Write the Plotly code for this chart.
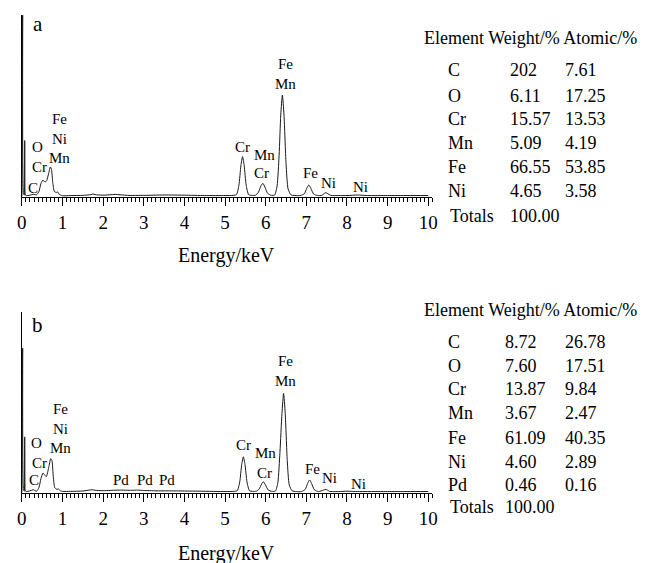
import plotly.graph_objects as go

# The page body has an 8 px default margin: the figure is drawn 8 px smaller
# and every pixel position below is measured in the window (reference) frame.
OFF = 8
W, H = 648 - OFF, 563 - OFF
FONT = "Liberation Serif"

# ---------------- data ----------------
energy_a = [0.00, 0.02, 0.04, 0.06, 0.07, 0.08, 0.10, 0.20, 0.28, 0.36, 0.42, 0.47, 0.52, 0.57,
            0.61, 0.66, 0.70, 0.73, 0.76, 0.80, 0.85, 0.88, 0.92, 1.00, 1.20, 1.50, 1.70, 1.75,
            1.80, 2.00, 2.30, 2.60, 3.00, 3.50, 4.00, 4.50, 5.00, 5.20, 5.28, 5.34, 5.39, 5.43,
            5.47, 5.52, 5.58, 5.66, 5.75, 5.82, 5.88, 5.93, 5.98, 6.05, 6.14, 6.22, 6.28, 6.33,
            6.37, 6.41, 6.45, 6.50, 6.55, 6.62, 6.72, 6.85, 6.95, 7.01, 7.06, 7.11, 7.18, 7.28,
            7.38, 7.44, 7.48, 7.53, 7.60, 7.80, 8.00, 8.26, 8.50, 9.00, 9.50, 10.00]
counts_a = [0.5, 100.0, 2.0, 1.0, 31.0, 2.0, 0.8, 1.0, 1.5, 1.2, 3.0, 7.5, 9.3, 8.2,
            9.0, 13.0, 16.5, 15.0, 8.0, 3.0, 2.5, 2.8, 1.5, 0.7, 0.8, 0.9, 1.3, 1.7,
            1.3, 1.0, 1.4, 0.9, 0.9, 1.1, 1.0, 0.8, 0.8, 0.9, 1.3, 6.4, 17.3, 22.2,
            17.3, 6.4, 1.3, 0.9, 1.0, 2.6, 6.0, 7.5, 5.5, 1.9, 0.9, 1.1, 6.1, 23.0,
            45.0, 56.0, 45.0, 18.5, 4.5, 1.2, 0.8, 0.8, 1.8, 4.8, 6.6, 4.8, 1.6, 0.8,
            0.9, 1.9, 2.4, 1.8, 0.9, 0.8, 0.8, 1.1, 0.8, 0.8, 0.8, 0.8]

energy_b = [0.00, 0.02, 0.04, 0.06, 0.07, 0.08, 0.10, 0.20, 0.28, 0.36, 0.42, 0.47, 0.52, 0.56,
            0.60, 0.66, 0.71, 0.74, 0.77, 0.81, 0.86, 0.90, 0.95, 1.00, 1.20, 1.50, 1.74, 1.80,
            2.00, 2.40, 2.70, 2.85, 3.00, 3.30, 3.60, 4.00, 4.40, 5.00, 5.22, 5.30, 5.36, 5.41,
            5.45, 5.49, 5.54, 5.60, 5.68, 5.77, 5.84, 5.90, 5.94, 5.99, 6.06, 6.15, 6.24, 6.30,
            6.35, 6.40, 6.44, 6.48, 6.53, 6.58, 6.65, 6.75, 6.88, 6.97, 7.03, 7.08, 7.13, 7.20,
            7.30, 7.42, 7.48, 7.52, 7.57, 7.64, 7.80, 8.00, 8.26, 8.50, 9.00, 9.50, 10.00]
counts_b = [0.5, 80.0, 2.0, 1.0, 31.0, 2.0, 0.8, 1.2, 1.8, 1.0, 3.0, 8.0, 11.0, 10.0,
            9.0, 14.0, 19.0, 18.0, 10.0, 3.0, 2.0, 2.2, 1.2, 0.9, 0.9, 1.1, 1.8, 1.5,
            1.3, 1.6, 1.5, 1.6, 1.4, 1.2, 1.2, 1.1, 1.0, 0.8, 0.9, 1.3, 6.0, 15.8,
            20.0, 15.8, 6.0, 1.3, 0.9, 1.0, 2.3, 5.0, 6.2, 4.6, 1.7, 0.9, 1.1, 6.0,
            22.5, 44.0, 55.0, 44.0, 18.0, 4.4, 1.2, 0.8, 0.8, 2.0, 5.2, 7.2, 5.2, 1.7,
            0.8, 1.6, 2.0, 1.6, 0.9, 0.8, 0.8, 1.0, 0.8, 0.8, 0.8, 0.8, 0.8]

tick_vals = [0, 1, 2, 3, 4, 5, 6, 7, 8, 9, 10]
tick_text = ["0", "1", "2", "3", "4", "5", "6", "7", "8", "9", "10"]
axis_title = "Energy/keV"

table_header = "Element Weight/% Atomic/%"
elements_a = ["C", "O", "Cr", "Mn", "Fe", "Ni"]
weight_a = ["202", "6.11", "15.57", "5.09", "66.55", "4.65"]
atomic_a = ["7.61", "17.25", "13.53", "4.19", "53.85", "3.58"]
elements_b = ["C", "O", "Cr", "Mn", "Fe", "Ni", "Pd"]
weight_b = ["8.72", "7.60", "13.87", "3.67", "61.09", "4.60", "0.46"]
atomic_b = ["26.78", "17.51", "9.84", "2.47", "40.35", "2.89", "0.16"]
totals_label = "Totals"
totals_value = "100.00"

# peak labels: (text, pixel x, pixel y)
labels_a = [("Fe<br>Ni<br>Mn", 55, 138), ("O", 33, 147), ("Cr", 35, 167), ("C", 28, 188),
            ("Fe<br>Mn", 285, 74), ("Cr", 241, 147), ("Mn", 263, 155), ("Cr", 260, 173),
            ("Fe", 310, 173), ("Ni", 328, 183), ("Ni", 361, 187)]
labels_b = [("Fe<br>Ni<br>Mn", 56, 428), ("O", 32, 443), ("Cr", 35, 463), ("C", 29, 480),
            ("Pd", 118, 480), ("Pd", 142, 480), ("Pd", 164, 480),
            ("Fe<br>Mn", 285, 371), ("Cr", 242, 445), ("Mn", 264, 453), ("Cr", 263, 473),
            ("Fe", 312, 469), ("Ni", 330, 478), ("Ni", 359, 484)]

# ---------------- layout helpers ----------------
def px(x):
    return (x - OFF) / W

def py(y):
    return 1 - (y - OFF) / H

fig = go.Figure()
line = dict(color="#1a1a1a", width=1, shape="spline", smoothing=0.6)
fig.add_trace(go.Scatter(x=energy_a, y=counts_a, mode="lines", line=line,
                         xaxis="x", yaxis="y", showlegend=False, hoverinfo="skip"))
fig.add_trace(go.Scatter(x=energy_b, y=counts_b, mode="lines", line=line,
                         xaxis="x2", yaxis="y2", showlegend=False, hoverinfo="skip"))

xdom = [px(17), px(434)]
xax = dict(domain=xdom, range=[0, 10.1], showgrid=False, zeroline=False,
           showline=True, linecolor="black", linewidth=1,
           ticks="outside", ticklen=8, tickwidth=1, tickcolor="black",
           tickvals=tick_vals, ticktext=tick_text,
           tickfont=dict(family=FONT, size=19, color="black"),
           minor=dict(ticks="outside", ticklen=4, dtick=0.1, tickcolor="black", tickwidth=1))
yax = dict(range=[0, 100], showgrid=False, zeroline=False, showline=True,
           linecolor="black", linewidth=1, showticklabels=False, ticks="")

fig.update_layout(
    width=W, height=H, margin=dict(l=0, r=0, t=0, b=0),
    paper_bgcolor="white", plot_bgcolor="white",
    xaxis=dict(**xax, anchor="y"),
    yaxis=dict(**yax, domain=[py(197), py(15)], anchor="x"),
    xaxis2=dict(**xax, anchor="y2"),
    yaxis2=dict(**yax, domain=[py(493), py(312)], anchor="x2"),
)

ann = []
def text(t, x, y, size=15, xanchor="center"):
    ann.append(dict(text=t, x=px(x), y=py(y), xref="paper", yref="paper",
                    showarrow=False, xanchor=xanchor, yanchor="middle",
                    font=dict(family=FONT, size=size, color="black")))

text("a", 33, 24, size=21)
text("b", 33, 325, size=21)
text(axis_title, 225, 255, size=20)
text(axis_title, 225, 553, size=20)
for t, x, y in labels_a + labels_b:
    text(t, x, y, size=15)

# tables
TS = 18
text(table_header, 423, 38, size=TS, xanchor="left")
rows_a = [70, 96, 119, 143, 167, 191]
for e, w_, a_, y in zip(elements_a, weight_a, atomic_a, rows_a):
    text(e, 448, y, size=TS, xanchor="left")
    text(w_, 511, y, size=TS, xanchor="left")
    text(a_, 567, y, size=TS, xanchor="left")
text(totals_label, 450, 216, size=TS, xanchor="left")
text(totals_value, 511, 216, size=TS, xanchor="left")

text(table_header, 423, 310, size=TS, xanchor="left")
rows_b = [342, 366, 389, 413, 438, 462, 485]
for e, w_, a_, y in zip(elements_b, weight_b, atomic_b, rows_b):
    text(e, 448, y, size=TS, xanchor="left")
    text(w_, 506, y, size=TS, xanchor="left")
    text(a_, 567, y, size=TS, xanchor="left")
text(totals_label, 450, 507, size=TS, xanchor="left")
text(totals_value, 506, 507, size=TS, xanchor="left")

fig.update_layout(annotations=ann)
fig.write_html("out.html")
